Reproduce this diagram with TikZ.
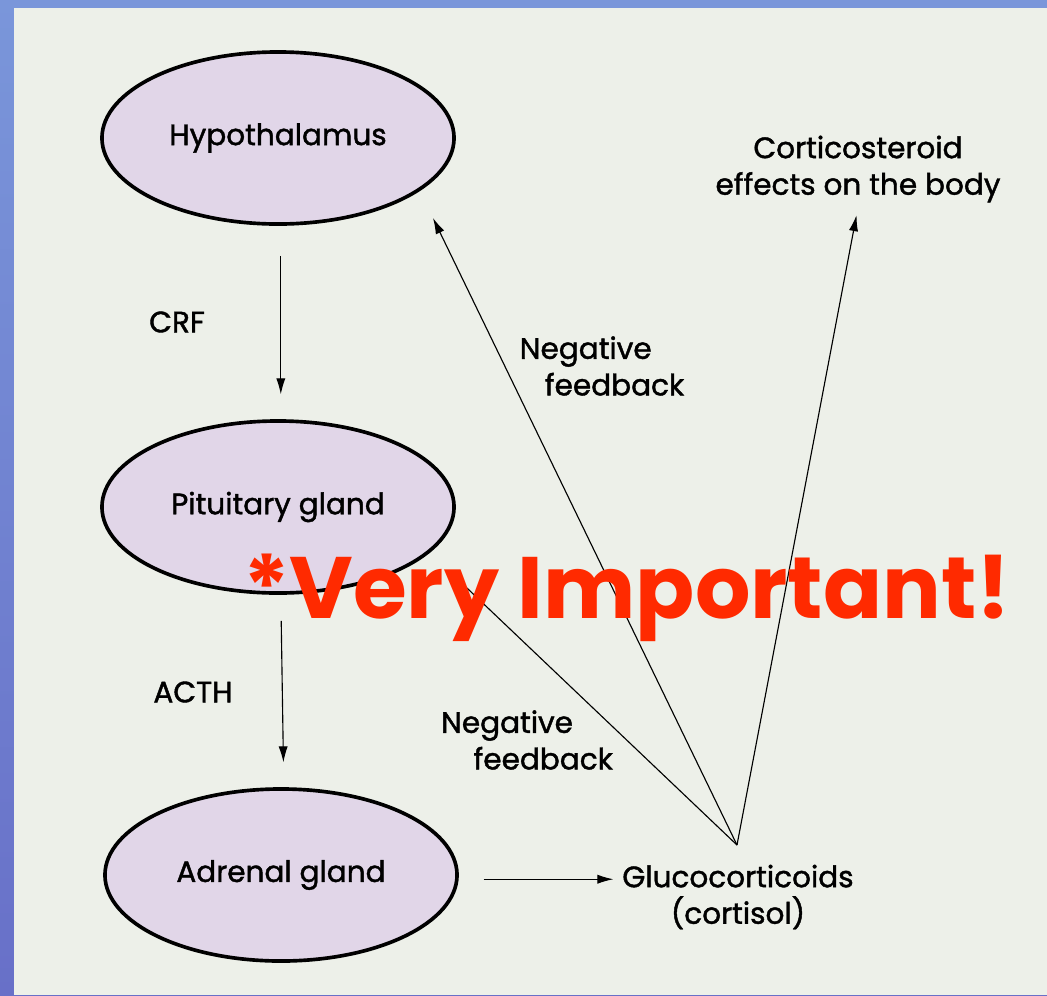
\documentclass[tikz,border=0pt]{standalone}
\usepackage{fontspec}
\setmainfont{Poppins}[FakeBold=1.4]
\newfontfamily\notefont{Poppins}
\usetikzlibrary{arrows.meta,shapes.geometric,positioning}

\definecolor{slideblue}{RGB}{104,112,200}
\definecolor{slidetop}{RGB}{122,150,218}
\definecolor{paper}{RGB}{237,240,233}
\definecolor{glandfill}{RGB}{225,214,232}
\definecolor{notered}{RGB}{255,42,0}

\begin{document}
\begin{tikzpicture}[
  x=0.025cm, y=-0.025cm,
  font=\fontsize{21}{26}\selectfont,
  >={Latex[length=4mm,width=2.3mm]},
  gland/.style={ellipse, draw, line width=2.6pt, fill=glandfill, minimum width=8.8cm, minimum height=4.3cm},
  flow/.style={->, line width=0.8pt},
  lbl/.style={align=left, inner sep=2pt},
  warn/.style={font=\notefont\fontsize{62}{62}\selectfont\bfseries, text=notered, inner sep=0pt},
]

% ---- slide and page ----------------------------------------------------------
\shade[top color=slidetop, bottom color=slideblue] (0,0) rectangle (1047,995);
\fill[paper] (14,8) rectangle (1047,995);

% ---- glands ------------------------------------------------------------------
\node[gland] (hyp) at (278,138) {Hypothalamus};
\node[gland] (pit) at (278,507) {Pituitary gland};
\node[gland] (adr) at (281,875) {Adrenal gland};

% ---- hormones and effects ------------------------------------------------------
\node (crf)  at (177,322) {CRF};
\node (acth) at (193,692) {ACTH};
\node[align=center] (gluco) at (738,897) {Glucocorticoids\\(cortisol)};
\node[align=center] (cort)  at (858,169) {Corticosteroid\\effects on the body};
\node[lbl] (neg1) at (602,366) {Negative\\\hspace*{0.85em}feedback};
\node[lbl] (neg2) at (527,740) {Negative\\\hspace*{1.1em}feedback};

\coordinate (apex)   at (737,845);
\coordinate (hyptip) at (433,218);
\coordinate (pittip) at (448,570);

% ---- arrows ------------------------------------------------------------------
\draw[flow, shorten <=0.75cm, shorten >=0.62cm] ([xshift=2]hyp.south) -- ([xshift=2]pit.north);
\draw[flow, shorten <=0.65cm, shorten >=0.62cm] ([xshift=2]pit.south) -- ([xshift=2]adr.north);
\draw[flow, shorten <=0.62cm, shorten >=0.1cm] ([yshift=-3]adr.east) -- ([yshift=-3]adr.east -| gluco.west);
\draw[flow] (apex) -- (hyptip);
\draw[flow] (apex) -- (pittip);
\draw[flow, shorten >=0.2cm] (apex) -- (cort.south);

% ---- the slide's note --------------------------------------------------------
\node[warn] (note) at (627,598) {*Very Important!};

\end{tikzpicture}
\end{document}
